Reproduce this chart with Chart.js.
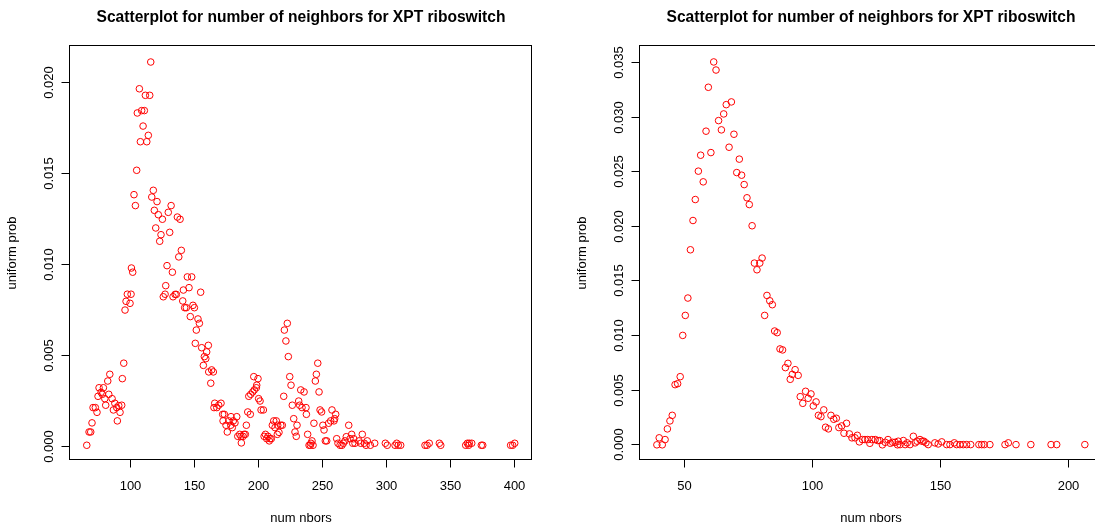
<!DOCTYPE html>
<html>
<head>
<meta charset="utf-8">
<script src="https://cdn.jsdelivr.net/npm/chart.js@4"></script>
<style>
  body { margin: 0; background: #fff; }
  #wrap { position: relative; width: 1095px; height: 524px; overflow: hidden; background: #fff; }
  canvas { position: absolute; top: 0; }
</style>
</head>
<body>
<div id="wrap">
  <canvas id="leftChart" width="547" height="524" style="left:0"></canvas>
  <canvas id="rightChart" width="570" height="524" style="left:547px"></canvas>
</div>
<script>
// Left panel: num nbors vs uniform prob
const leftNbors = [
  65.4, 67.2, 68.5, 69.5, 70.3, 72.1, 73.4, 74.2, 75.0, 78.4, 76.6, 77.6, 79.5, 80.2, 81.8, 83.4, 82.6, 85.2, 86.2, 87.3,
  88.8, 90.4, 89.3, 91.4, 92.7, 93.2, 94.3, 95.3, 96.1, 99.2, 97.1, 100.0, 100.3, 101.3,
  115.4, 106.5, 111.2, 114.6, 104.9, 108.3, 110.4, 109.4, 113.5, 107.3, 112.3, 104.4, 102.3, 103.4, 117.4, 116.2,
  120.3, 131.3, 118.2, 129.1, 121.3, 136.2, 138.3, 124.5, 119.3, 130.2, 123.4, 122.4, 139.3, 137.3, 128.1, 132.3,
  144.0, 147.4, 127.1, 125.2, 126.6, 132.8, 134.4, 135.4, 140.9, 145.3, 140.4, 141.9, 143.2, 148.4, 149.5, 146.3,
  154.4, 152.3, 153.4, 151.0, 150.2, 155.2, 160.4, 159.1, 157.3, 158.4, 156.5, 160.7, 163.0, 164.3, 162.3, 165.4,
  167.0, 168.5, 170.3, 164.8, 171.6, 172.9, 171.9, 174.2, 175.2, 176.3, 177.9, 179.1, 178.1, 179.9, 181.2, 182.6,
  183.4, 184.9, 185.9, 187.5, 188.3, 189.3, 186.2, 190.1, 191.2, 193.2, 192.0, 193.5, 195.1, 196.3, 197.9, 198.2,
  195.9, 199.2, 199.7, 200.8, 201.6, 203.4, 204.0, 205.0, 206.0, 207.0, 208.6, 208.0, 209.6, 210.4, 211.5, 212.5,
  213.5, 214.6, 215.6, 214.3, 217.0, 218.2, 219.3, 219.8, 222.1, 221.0, 222.9, 224.0, 225.0, 226.0, 227.1, 228.1,
  229.1, 229.7, 231.0, 232.6, 235.2, 231.8, 233.6, 236.7, 237.0, 238.0, 239.1, 240.6, 241.4, 242.2, 240.1, 242.9,
  244.0, 244.8, 245.9, 246.9, 247.7, 248.9, 249.9, 250.8, 251.8, 252.9, 254.4, 256.0, 257.0, 258.6, 259.9, 259.1,
  260.7, 261.7, 263.3, 264.8, 265.9, 267.2, 268.2, 270.1, 271.1, 272.4, 273.2, 274.0, 275.0, 278.1, 279.5, 280.7,
  282.3, 283.6, 284.6, 287.0, 290.4, 298.7, 300.2, 307.6, 308.8, 306.3, 310.7, 329.7, 331.3, 333.0, 340.9, 342.0,
  361.5, 362.8, 364.3, 366.2, 363.8, 373.7, 374.8, 396.6, 398.2, 399.8
];
const leftProb = [
  0.00011, 0.00084, 0.00084, 0.00134, 0.00218, 0.00218, 0.00192, 0.0028, 0.00327, 0.00327, 0.00302, 0.00291, 0.00267, 0.00231, 0.00364, 0.00401, 0.00291, 0.00267, 0.00205, 0.00242,
  0.00218, 0.00229, 0.00145, 0.00192, 0.00231, 0.00377, 0.00462, 0.00754, 0.00802, 0.00791, 0.00841, 0.00841, 0.00985, 0.00962,
  0.02117, 0.0197, 0.01934, 0.01934, 0.01837, 0.0185, 0.0185, 0.01765, 0.01714, 0.01679, 0.01679, 0.01522, 0.01388, 0.01328, 0.01412, 0.01375,
  0.0135, 0.01328, 0.01302, 0.01291, 0.01278, 0.01265, 0.01253, 0.01253, 0.01205, 0.01181, 0.01168, 0.01132, 0.01082, 0.01046, 0.00998, 0.00962,
  0.00936, 0.00936, 0.00888, 0.00827, 0.00841, 0.00827, 0.0084, 0.0084, 0.00864, 0.00877, 0.00804, 0.00767, 0.00767, 0.0078, 0.00767, 0.00718,
  0.00852, 0.00705, 0.00681, 0.00644, 0.00571, 0.00547, 0.0056, 0.00524, 0.00498, 0.00487, 0.0045, 0.00414, 0.00425, 0.00414, 0.00352, 0.00242,
  0.00218, 0.00231, 0.00242, 0.00218, 0.00181, 0.00181, 0.00145, 0.00121, 0.00084, 0.00145, 0.00121, 0.00108, 0.00168, 0.00145, 0.00134, 0.00168,
  0.0006, 0.00071, 0.0006, 0.0006, 0.00071, 0.00071, 0.00024, 0.00121, 0.00194, 0.00181, 0.0028, 0.00291, 0.00304, 0.00315, 0.00327, 0.00341,
  0.00388, 0.00377, 0.00267, 0.00254, 0.00205, 0.00205, 0.0006, 0.00071, 0.00047, 0.0006, 0.00047, 0.00035, 0.00047, 0.00121, 0.00145, 0.00108,
  0.00145, 0.00121, 0.00082, 0.00071, 0.00121, 0.00121, 0.0028, 0.00644, 0.00681, 0.00584, 0.00498, 0.00388, 0.00341, 0.00231, 0.00157, 0.00084,
  0.0006, 0.00121, 0.00254, 0.00315, 0.00304, 0.00231, 0.00218, 0.00218, 0.00181, 0.00071, 0.00011, 0.00022, 0.00035, 0.00011, 0.00011, 0.00132,
  0.00364, 0.00401, 0.00462, 0.00304, 0.00205, 0.00194, 0.00121, 0.00095, 0.00035, 0.00035, 0.00132, 0.00145, 0.00205, 0.00145, 0.00181, 0.00157,
  0.00047, 0.00022, 0.00011, 0.00011, 0.00022, 0.00035, 0.00058, 0.00121, 0.00047, 0.00071, 0.00022, 0.00047, 0.00022, 0.00035, 0.00022, 0.00071,
  0.00022, 0.00011, 0.00035, 0.00011, 0.00022, 0.00022, 0.00011, 0.00022, 0.00011, 0.00011, 0.00011, 0.00011, 0.00011, 0.00022, 0.00022, 0.00011,
  0.00011, 0.00022, 0.00022, 0.00022, 0.00011, 0.00011, 0.00011, 0.00011, 0.00011, 0.00022
];

// Right panel
const rightNbors = [
  61.1, 62.0, 59.0, 66.0, 68.0, 65.0, 63.0, 64.1, 58.1, 69.0, 67.1, 60.0, 56.0, 71.1, 55.1, 70.1, 72.0, 57.0, 73.0, 53.9,
  74.1, 75.0, 53.0, 76.1, 52.0, 77.0, 79.1, 80.0, 78.0, 51.0, 50.0, 49.0, 48.0, 47.0, 46.0, 44.9, 44.0, 43.0, 39.8, 42.1,
  38.9, 41.0, 81.9, 83.0, 84.0, 81.0, 84.9, 85.9, 87.0, 88.0, 90.1, 89.1, 92.9, 91.8, 94.1, 91.0, 97.0, 94.9, 99.1, 98.0,
  95.9, 101.1, 100.0, 104.1, 102.0, 103.0, 106.9, 108.0, 109.0, 104.8, 105.9, 113.0, 111.1, 110.0, 112.0, 114.1, 115.1, 116.3, 117.2, 118.0,
  119.2, 120.2, 121.3, 122.1, 122.9, 124.2, 125.2, 126.0, 127.0, 128.1, 129.2, 130.1, 131.0, 132.0, 132.9, 133.2, 133.9, 135.2, 135.9, 136.7,
  137.8, 139.1, 139.8, 140.6, 141.7, 142.5, 143.2, 144.0, 144.9, 147.5, 148.8, 150.2, 152.1, 153.4, 155.1, 156.0, 157.3, 158.6, 159.9, 161.5,
  164.7, 165.8, 166.8, 169.0, 174.9, 176.2, 179.2, 185.0, 192.9, 195.1, 206.1
];
const rightProb = [
  0.0351, 0.03436, 0.03278, 0.03119, 0.03144, 0.03034, 0.02973, 0.02888, 0.02876, 0.02848, 0.02729, 0.0268, 0.02656, 0.0262, 0.0251, 0.02497, 0.02473, 0.02412, 0.02387, 0.0225,
  0.02266, 0.02204, 0.02058, 0.0201, 0.0179, 0.01668, 0.01668, 0.01714, 0.01607, 0.01348, 0.01189, 0.01006, 0.00628, 0.00564, 0.00555, 0.00274, 0.00223, 0.0015, 0.00068, 0.00052,
  0.00004, 0.00004, 0.01372, 0.01323, 0.01287, 0.01189, 0.01046, 0.01031, 0.00882, 0.00873, 0.0075, 0.00711, 0.00692, 0.00649, 0.0064, 0.00604, 0.00494, 0.00445, 0.0047, 0.0043,
  0.00384, 0.00397, 0.0036, 0.00324, 0.00274, 0.00262, 0.00274, 0.00238, 0.00247, 0.00165, 0.0015, 0.00201, 0.00177, 0.00162, 0.0011, 0.00104, 0.00068, 0.00068, 0.00091, 0.00031,
  0.00052, 0.00052, 0.00052, 0.00018, 0.00052, 0.00052, 0.00043, 0.00043, 0.00004, 0.00027, 0.00052, 0.00018, 0.00027, 0.00027, 0.00004, 0.00037, 0.00006, 0.00043, 0.00006, 0.00022,
  0.00006, 0.00082, 0.00022, 0.00037, 0.00052, 0.00037, 0.00037, 0.00022, 0.00006, 0.00022, 0.00012, 0.00031, 0.00006, 0.00006, 0.00022, 0.00006, 0.00006, 0.00006, 0.00006, 0.00006,
  0.00006, 0.00006, 0.00006, 0.00006, 0.00006, 0.00022, 0.00006, 0.00006, 0.00006, 0.00006, 0.00006
];

// Tick labels
const leftXTicks = [100, 150, 200, 250, 300, 350, 400];
const leftYTicks = ['0.000', '0.005', '0.010', '0.015', '0.020'];
const rightXTicks = [50, 100, 150, 200];
const rightYTicks = ['0.000', '0.005', '0.010', '0.015', '0.020', '0.025', '0.030', '0.035'];

const mainTitle = 'Scatterplot for number of neighbors for XPT riboswitch';
const xTitle = 'num nbors';
const yTitle = 'uniform prob';

const FONT = '"Liberation Sans", Arial, Helvetica, sans-serif';

// Draw R-style box, axes and titles from the chart's own scales
const rAxes = {
    id: 'rAxes',
    afterDraw(chart, args, opts) {
        const ctx = chart.ctx;
        const area = chart.chartArea;
        const xs = chart.scales.x;
        const ys = chart.scales.y;
        const L = Math.round(area.left) - 0.5;
        const R = Math.round(area.right) - 0.5;
        const T = Math.round(area.top) - 0.5;
        const B = Math.round(area.bottom) - 0.5;
        const tick = 8;

        ctx.save();
        ctx.strokeStyle = '#000';
        ctx.lineWidth = 1;
        ctx.strokeRect(L, T, R - L, B - T);

        // x axis
        const xp = opts.xTicks.map(v => Math.round(xs.getPixelForValue(v)) - 0.5);
        ctx.beginPath();
        ctx.moveTo(xp[0], B);
        ctx.lineTo(xp[xp.length - 1], B);
        xp.forEach(p => { ctx.moveTo(p, B); ctx.lineTo(p, B + tick); });
        ctx.stroke();
        ctx.fillStyle = '#000';
        ctx.font = '13px ' + FONT;
        ctx.textAlign = 'center';
        ctx.textBaseline = 'alphabetic';
        opts.xTicks.forEach((v, i) => ctx.fillText(String(v), xp[i], B + 30.5));

        // y axis
        const yp = opts.yTicks.map(s => Math.round(ys.getPixelForValue(parseFloat(s))) - 0.5);
        ctx.beginPath();
        ctx.moveTo(L, yp[0]);
        ctx.lineTo(L, yp[yp.length - 1]);
        yp.forEach(p => { ctx.moveTo(L, p); ctx.lineTo(L - tick, p); });
        ctx.stroke();
        opts.yTicks.forEach((s, i) => {
            ctx.save();
            ctx.translate(L - 16.5, yp[i]);
            ctx.rotate(-Math.PI / 2);
            ctx.fillText(s, 0, 0);
            ctx.restore();
        });

        // axis titles
        const cx = (area.left + area.right) / 2;
        const cy = (area.top + area.bottom) / 2;
        ctx.fillText(xTitle, cx, 521.5);
        ctx.save();
        ctx.translate(L - 54, cy);
        ctx.rotate(-Math.PI / 2);
        ctx.fillText(yTitle, 0, 0);
        ctx.restore();

        // main title
        ctx.font = 'bold 15.6px ' + FONT;
        ctx.fillText(mainTitle, cx, 21.5);
        ctx.restore();
    }
};

function createChart(canvasId, xs, ys, xRange, yRange, pad, xTicks, yTicks) {
    const ctx = document.getElementById(canvasId).getContext('2d');
    return new Chart(ctx, {
        type: 'scatter',
        data: {
            datasets: [{
                data: xs.map((x, i) => ({ x: x, y: ys[i] })),
                borderColor: '#ff0000',
                backgroundColor: 'rgba(0,0,0,0)',
                pointRadius: 3.3,
                pointHoverRadius: 3.3,
                borderWidth: 1
            }]
        },
        options: {
            responsive: false,
            animation: false,
            events: [],
            layout: { padding: pad },
            plugins: {
                legend: { display: false },
                tooltip: { enabled: false },
                rAxes: { xTicks: xTicks, yTicks: yTicks }
            },
            scales: {
                x: { type: 'linear', min: xRange[0], max: xRange[1], display: false },
                y: { type: 'linear', min: yRange[0], max: yRange[1], display: false }
            }
        },
        plugins: [rAxes]
    });
}

createChart('leftChart', leftNbors, leftProb, [52.3, 413.3], [-0.0007, 0.02205],
    { left: 70, top: 46, right: 15, bottom: 64 }, leftXTicks, leftYTicks);
createChart('rightChart', rightNbors, rightProb, [32.3, 212.8], [-0.00135, 0.03656],
    { left: 93, top: 46, right: 15, bottom: 64 }, rightXTicks, rightYTicks);
</script>
</body>
</html>
